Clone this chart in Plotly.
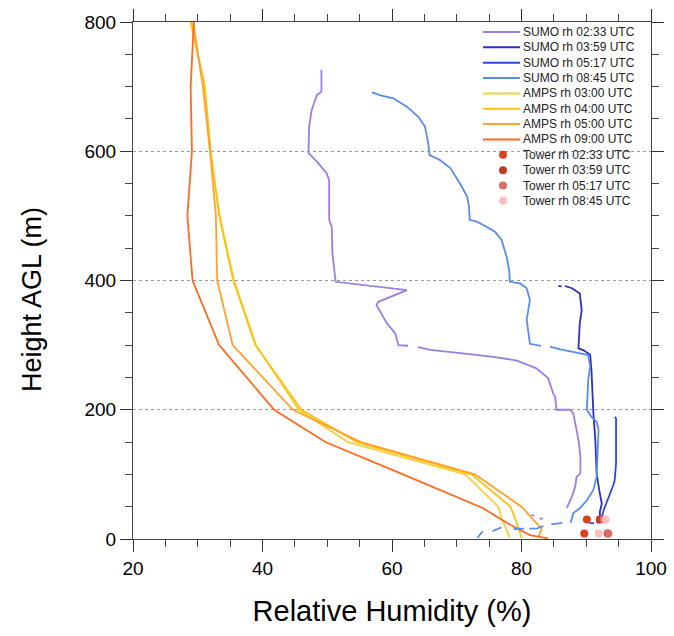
import plotly.graph_objects as go

# ---------------- data ----------------
rh_ticks = [20, 40, 60, 80, 100]
h_ticks = [0, 200, 400, 600, 800]

# SUMO profiles (relative humidity %, height m); None = data gap
sumo_0233_rh = [49.1, 49.1, 48.4, 47.6, 47.2, 47.1, 48.4, 49.9, 50.3, 50.3, 50.7, 50.8, 51.3, 54.0, 62.3,
                57.9, 57.6, 59.2, 60.5, 61.0, 62.5, None, 64.0, 65.9, 72.0, 76.2, 79.3, 82.3, 84.1, 84.9,
                85.2, 85.4, 87.5, 88.0, 88.8, 89.1, 89.1, 88.5, 88.3, 87.8, 87.0, None, 81.5, 82.0, None,
                82.8, 83.3]
sumo_0233_h = [726, 692, 687, 664, 638, 597, 584, 566, 555, 494, 483, 442, 398, 395, 385,
               367, 362, 334, 318, 300, 299, None, 297, 292.5, 286, 281, 276, 264, 249, 225,
               220, 200, 200, 194.5, 153, 127, 102, 96, 81, 66, 48, None, 37, 36, None,
               32, 31]

sumo_0359_rh = [85.7, 86.2, None, 86.7, 87.8, 89.0, 89.3, 89.0, 88.9, 88.8, 89.6, 90.6, 90.8, 91.0, 91.1,
                91.4, 91.6, 92.0, 92.4, 92.1, 92.1, 91.8]
sumo_0359_h = [391.5, 391, None, 391.5, 388, 380, 354, 334, 308, 295, 292, 285, 262, 200, 195,
               153, 102, 76, 55, 42, 27, 25]

sumo_0517_rh = [94.4, 94.6, 94.6, 94.4, 94.2, 93.7, 93.2, 92.7, 92.4, 92.1, 91.6, None, 91.2, 90.5]
sumo_0517_h = [189, 186.5, 117, 91, 84, 71, 60, 45, 34.5, 27, 25, None, 24.5, 24.5]

sumo_0845_rh = [56.9, 58.1, 60.2, 62.3, 64.1, 65.1, 65.6, 65.8, 67.4, 69.0, 70.5, 71.6, 71.9, 72.0, 73.1,
                74.1, 75.9, 76.9, 77.7, 78.1, 78.2, 79.8, 80.8, 81.3, 80.8, 81.3, 83.0, None, 84.4, 86.0,
                88.5, 90.3, 90.6, 90.3, 90.1, 90.8, 91.6, 91.9, 91.6, 91.1, 90.1, 89.0, 88.0, 87.6, None,
                86.3, 84.6, None, 83.4, 82.4, 81.2, None, 80.4, 78.8, None, 76.9, 75.5, None, 74.0, 73.2]
sumo_0845_h = [691, 687, 682, 669, 653, 638, 612, 594, 586.5, 574, 550, 530, 514, 494, 491,
               486, 475.5, 463, 437, 416, 398, 395.5, 388, 370, 339, 302, 299, None, 297.6, 293.5,
               288.3, 284.7, 267, 246, 200, 189, 181.5, 169, 96, 76, 60, 47.5, 40, 25, None,
               25, 22.5, None, 20, 16.5, 16, None, 16, 15.5, None, 18, 12, None, 12, 2]

# AMPS model profiles
amps_0300_h = [800, 700, 600, 500, 400, 300, 200, 150, 100, 50, 30, 2]
amps_0300_rh = [29.0, 31.0, 31.9, 33.4, 35.6, 39.0, 45.6, 53.2, 71.3, 76.4, 77.0, 78.2]
amps_0400_h = [800, 700, 600, 500, 400, 300, 200, 150, 100, 50, 22, 2]
amps_0400_rh = [28.9, 31.1, 32.0, 33.3, 35.5, 38.9, 46.0, 54.6, 72.3, 78.3, 79.4, 80.0]
amps_0500_h = [800, 700, 600, 500, 400, 300, 200, 150, 100, 50, 16, 2]
amps_0500_rh = [29.3, 30.8, 31.9, 32.8, 33.0, 35.4, 44.7, 55.2, 72.8, 80.0, 83.1, 82.6]
amps_0900_h = [800, 700, 600, 500, 400, 300, 200, 150, 100, 48, 24, 6, 1]
amps_0900_rh = [29.4, 28.9, 29.1, 28.4, 29.2, 33.3, 41.8, 49.7, 61.7, 74.0, 77.9, 81.3, 84.1]

# Tower observations (two levels)
tower_h = [30, 8.5]
tower_0233_rh = [90.1, 89.7]
tower_0359_rh = [92.1, 93.3]
tower_0517_rh = [92.7, 93.4]
tower_0845_rh = [93.0, 91.9]

sumo_names = ["SUMO rh 02:33 UTC", "SUMO rh 03:59 UTC", "SUMO rh 05:17 UTC", "SUMO rh 08:45 UTC"]
amps_names = ["AMPS rh 03:00 UTC", "AMPS rh 04:00 UTC", "AMPS rh 05:00 UTC", "AMPS rh 09:00 UTC"]
tower_names = ["Tower rh 02:33 UTC", "Tower rh 03:59 UTC", "Tower rh 05:17 UTC", "Tower rh 08:45 UTC"]

sumo_colors = ["#9B7EE2", "#2E2EC4", "#2A48DB", "#5A8CEE"]
amps_colors = ["#F6D040", "#FFC10C", "#FFA12C", "#FF6A1E"]
tower_colors = ["#D8401F", "#C4372B", "#DD6B64", "#FFBDBD"]

# ---------------- figure ----------------
FONT = "Liberation Sans, Arial, Helvetica, sans-serif"
fig = go.Figure()

amps_series = [(amps_0300_rh, amps_0300_h), (amps_0400_rh, amps_0400_h),
               (amps_0500_rh, amps_0500_h), (amps_0900_rh, amps_0900_h)]
for (x, y), name, col in zip(amps_series, amps_names, amps_colors):
    fig.add_trace(go.Scatter(x=x, y=y, mode="lines", name=name,
                             line=dict(color=col, width=1.8), showlegend=False))

sumo_series = [(sumo_0233_rh, sumo_0233_h), (sumo_0359_rh, sumo_0359_h),
               (sumo_0517_rh, sumo_0517_h), (sumo_0845_rh, sumo_0845_h)]
for (x, y), name, col in zip(sumo_series, sumo_names, sumo_colors):
    fig.add_trace(go.Scatter(x=x, y=y, mode="lines", name=name, connectgaps=False,
                             line=dict(color=col, width=1.8), showlegend=False))

tower_series = [tower_0233_rh, tower_0359_rh, tower_0517_rh, tower_0845_rh]
for x, name, col in zip(tower_series, tower_names, tower_colors):
    fig.add_trace(go.Scatter(x=x, y=tower_h, mode="markers", name=name,
                             marker=dict(color=col, size=8, line=dict(width=0)),
                             showlegend=False))

# ---------------- manual legend (compact NCL-style) ----------------
W, H = 674, 636
ML, MR, MT, MB = 133, 23, 22, 97
pw, ph = W - ML - MR, H - MT - MB


def px_to_paper_x(px):
    return (px - ML) / pw


def py_to_paper_y(py):
    return (H - MB - py) / ph


leg_names = sumo_names + amps_names + tower_names
leg_colors = sumo_colors + amps_colors + tower_colors
leg_kinds = ["line"] * 8 + ["marker"] * 4
row0, step = 32.0, 15.35
for i, (nm, col, kind) in enumerate(zip(leg_names, leg_colors, leg_kinds)):
    yp = py_to_paper_y(row0 + i * step)
    if kind == "line":
        fig.add_shape(type="line", xref="paper", yref="paper",
                      x0=px_to_paper_x(483), x1=px_to_paper_x(520), y0=yp, y1=yp,
                      line=dict(color=col, width=2))
    else:
        fig.add_shape(type="circle", xref="paper", yref="paper",
                      xsizemode="pixel", ysizemode="pixel",
                      xanchor=px_to_paper_x(503), yanchor=yp,
                      x0=-4, x1=4, y0=-4, y1=4,
                      fillcolor=col, line=dict(width=0))
    fig.add_annotation(x=px_to_paper_x(521), y=yp, xref="paper", yref="paper",
                       text=nm, showarrow=False, xanchor="left", yanchor="middle",
                       font=dict(family=FONT, size=12, color="#222222"))

# y-axis title (placed like the NCL original)
fig.add_annotation(x=px_to_paper_x(32), y=py_to_paper_y(300), xref="paper", yref="paper",
                   text="Height AGL (m)", textangle=-90, showarrow=False,
                   xanchor="center", yanchor="middle",
                   font=dict(family=FONT, size=27, color="black"))

axis_common = dict(
    showline=True, linecolor="#444444", linewidth=1, mirror="ticks",
    ticks="outside", ticklen=12, tickwidth=1, tickcolor="#333333",
    tickfont=dict(family=FONT, size=19, color="black"),
    zeroline=False, automargin=False,
)

fig.update_xaxes(
    range=[20, 100], tickvals=rh_ticks, showgrid=False,
    minor=dict(dtick=5, tick0=0, ticks="outside", ticklen=7, tickwidth=1, tickcolor="#444444", showgrid=False),
    title=dict(text="Relative Humidity (%)", font=dict(family=FONT, size=29, color="black"), standoff=22),
    **axis_common,
)
fig.update_yaxes(
    range=[0, 800], tickvals=h_ticks, showgrid=True, gridcolor="#9a9a9a", griddash="dot", gridwidth=1,
    minor=dict(dtick=50, tick0=0, ticks="outside", ticklen=7, tickwidth=1, tickcolor="#444444", showgrid=False),
    **axis_common,
)

fig.update_layout(
    width=W, height=H,
    margin=dict(l=ML, r=MR, t=MT, b=MB, autoexpand=False),
    plot_bgcolor="white", paper_bgcolor="white",
    showlegend=False,
    font=dict(family=FONT),
)

fig.write_html("out.html")
